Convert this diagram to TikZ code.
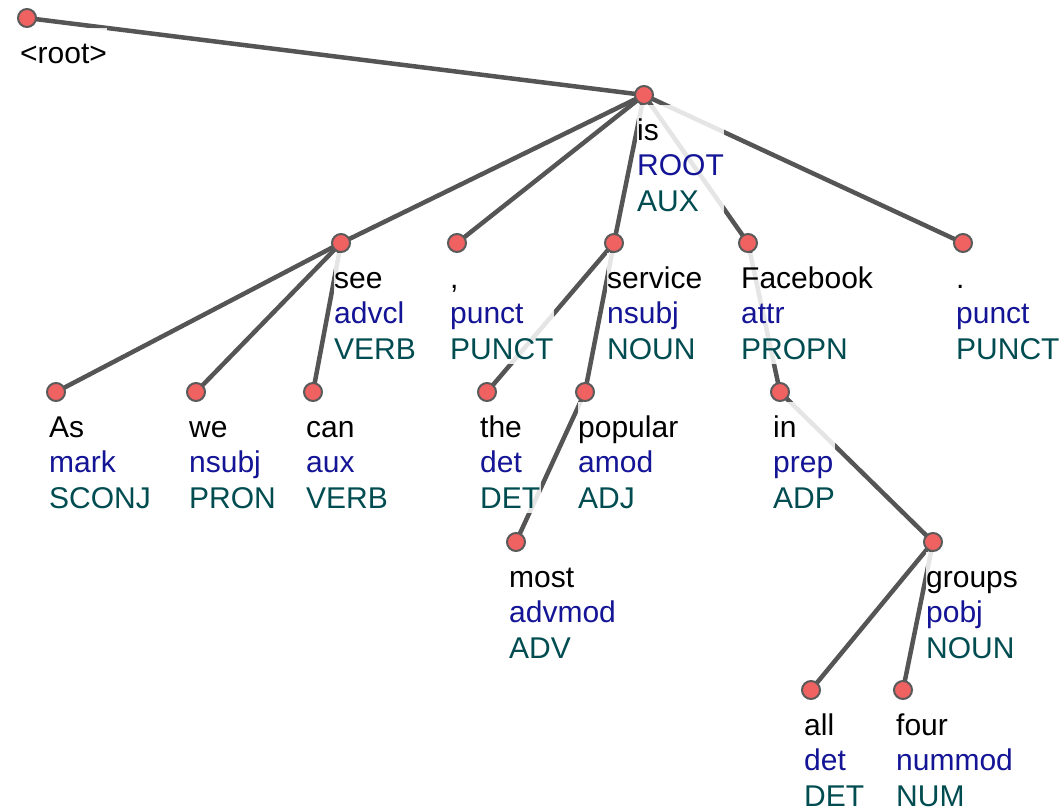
\documentclass[tikz,border=0pt]{standalone}
\usepackage{fontspec}
\setmainfont{Liberation Sans}
\definecolor{edgegray}{RGB}{85,85,85}
\definecolor{tokfill}{RGB}{240,98,98}
\definecolor{tokline}{RGB}{90,90,90}
\definecolor{relcol}{RGB}{20,20,150}
\definecolor{poscol}{RGB}{0,76,80}
\pgfdeclarelayer{edges}
\pgfdeclarelayer{labels}
\pgfsetlayers{edges,labels,main}
\newcommand\deplabel[3]{\rule{0pt}{35pt}#1\\\textcolor{relcol}{#2}\\\textcolor{poscol}{#3}\rule[-5pt]{0pt}{5pt}}
\tikzset{
  tok/.style={circle, draw=tokline, line width=2pt, fill=tokfill, minimum size=18pt, inner sep=0pt},
  edge/.style={draw=edgegray, line width=4.5pt},
  lab/.style={anchor=north west, xshift=-7.5pt, yshift=-10pt, inner xsep=0.5pt, inner ysep=0pt,
    fill=white, fill opacity=0.85, text opacity=1, align=left,
    font=\fontsize{30}{35.6}\selectfont},
}
\begin{document}
\begin{tikzpicture}[x=1pt, y=-1pt]
\useasboundingbox (0,0) rectangle (1061,810);
% tokens
\node[tok] (root)  at (27,18)   {};
\node[tok] (is)    at (644,95)  {};
\node[tok] (see)   at (341,243) {};
\node[tok] (comma) at (457,243) {};
\node[tok] (service) at (614,243) {};
\node[tok] (facebook) at (748,243) {};
\node[tok] (period) at (963,243) {};
\node[tok] (as)    at (56,392)  {};
\node[tok] (we)    at (196,392) {};
\node[tok] (can)   at (313,392) {};
\node[tok] (the)   at (487,392) {};
\node[tok] (popular) at (585,392) {};
\node[tok] (in)    at (780,392) {};
\node[tok] (most)  at (516,542) {};
\node[tok] (groups) at (933,542) {};
\node[tok] (all)   at (811,690) {};
\node[tok] (four)  at (903,690) {};
% dependency arcs
\begin{pgfonlayer}{edges}
\draw[edge] (root.center) -- (is.center);
\foreach \c in {see,comma,service,facebook,period} \draw[edge] (is.center) -- (\c.center);
\foreach \c in {as,we,can} \draw[edge] (see.center) -- (\c.center);
\foreach \c in {the,popular} \draw[edge] (service.center) -- (\c.center);
\draw[edge] (popular.center) -- (most.center);
\draw[edge] (facebook.center) -- (in.center);
\draw[edge] (in.center) -- (groups.center);
\foreach \c in {all,four} \draw[edge] (groups.center) -- (\c.center);
\end{pgfonlayer}
% token labels
\begin{pgfonlayer}{labels}
\node[lab] (l-root) at (root.center) {\rule{0pt}{35pt}<root>};
\node[lab] (l-is) at (is.center) {\deplabel{is}{ROOT}{AUX}};
\node[lab] (l-see) at (see.center) {\deplabel{see}{advcl}{VERB}};
\node[lab] (l-comma) at (comma.center) {\deplabel{,}{punct}{PUNCT}};
\node[lab] (l-service) at (service.center) {\deplabel{service}{nsubj}{NOUN}};
\node[lab] (l-facebook) at (facebook.center) {\deplabel{Facebook}{attr}{PROPN}};
\node[lab] (l-period) at (period.center) {\deplabel{.}{punct}{PUNCT}};
\node[lab] (l-as) at (as.center) {\deplabel{As}{mark}{SCONJ}};
\node[lab] (l-we) at (we.center) {\deplabel{we}{nsubj}{PRON}};
\node[lab] (l-can) at (can.center) {\deplabel{can}{aux}{VERB}};
\node[lab] (l-the) at (the.center) {\deplabel{the}{det}{DET}};
\node[lab] (l-popular) at (popular.center) {\deplabel{popular}{amod}{ADJ}};
\node[lab] (l-in) at (in.center) {\deplabel{in}{prep}{ADP}};
\node[lab] (l-most) at (most.center) {\deplabel{most}{advmod}{ADV}};
\node[lab] (l-groups) at (groups.center) {\deplabel{groups}{pobj}{NOUN}};
\node[lab] (l-all) at (all.center) {\deplabel{all}{det}{DET}};
\node[lab] (l-four) at (four.center) {\deplabel{four}{nummod}{NUM}};
\end{pgfonlayer}
\end{tikzpicture}
\end{document}
